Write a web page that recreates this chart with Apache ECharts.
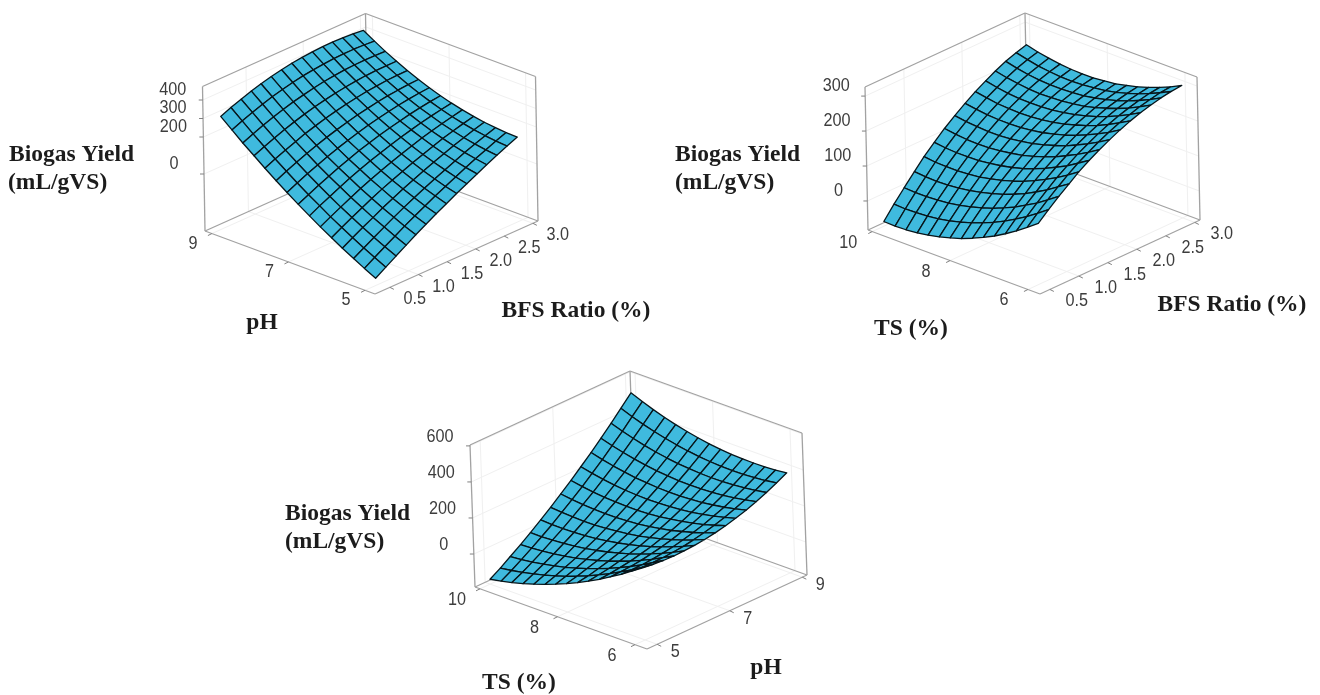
<!DOCTYPE html>
<html>
<head>
<meta charset="utf-8">
<style>html,body{margin:0;padding:0;background:#fff}#c{width:1320px;height:695px}</style>
<script src="https://cdn.jsdelivr.net/npm/echarts@6/dist/echarts.min.js"></script>
</head>
<body>
<div id="c"></div>
<script>
// Mesh coordinates along each factor
const phGrid = [5,5.29,5.57,5.86,6.14,6.43,6.71,7,7.29,7.57,7.86,8.14,8.43,8.71,9];
const bfsGrid = [0.5,0.68,0.86,1.04,1.21,1.39,1.57,1.75,1.93,2.11,2.29,2.46,2.64,2.82,3];
const tsGrid = [6,6.29,6.57,6.86,7.14,7.43,7.71,8,8.29,8.57,8.86,9.14,9.43,9.71,10];

const yieldPhBfs = [
[-222,-191,-159,-126,-91,-54,-16,24,66,108,153,199,246,295,346],
[-187,-157,-127,-94,-60,-25,13,51,92,134,178,223,270,319,369],
[-152,-124,-95,-64,-31,3,39,77,117,158,201,245,292,340,389],
[-118,-92,-64,-35,-3,30,65,101,140,180,222,266,312,359,408],
[-85,-61,-35,-7,23,55,89,124,161,200,242,284,329,376,424],
[-53,-31,-6,20,49,79,111,145,181,219,259,301,345,390,438],
[-22,-2,21,46,72,101,132,165,199,236,275,316,358,403,450],
[8,27,48,70,95,122,151,183,216,251,289,328,370,414,460],
[38,54,73,94,117,142,169,199,231,265,301,339,380,422,467],
[66,80,97,116,137,160,186,214,244,276,311,348,387,428,472],
[94,106,120,137,156,178,201,227,256,287,320,355,393,433,475],
[120,130,142,157,174,193,215,239,266,295,326,360,396,435,476],
[146,153,163,175,190,207,227,249,274,301,331,363,398,435,474],
[171,176,183,193,205,220,238,258,281,306,334,364,397,433,471],
[195,197,202,209,219,232,247,265,286,309,335,364,395,429,465]
];
// Panel 2: rows = BFS ratio, columns = TS
const yieldTsBfs = [
[120,97,75,55,37,21,7,-6,-16,-25,-32,-37,-40,-41,-40],
[146,123,102,83,66,50,37,25,15,7,1,-3,-5,-6,-4],
[170,148,127,109,92,78,65,54,45,38,32,29,27,27,29],
[192,171,151,133,117,103,91,81,73,66,61,58,57,58,61],
[213,192,173,156,141,127,116,106,98,92,88,86,86,87,91],
[232,212,193,177,162,149,138,129,122,117,113,112,112,114,118],
[249,229,212,196,181,169,159,150,144,139,136,135,136,139,144],
[264,245,228,213,199,188,178,170,164,160,157,157,159,162,167],
[278,259,243,228,215,204,195,187,182,178,177,177,179,183,188],
[290,272,256,241,229,219,210,203,198,195,194,195,197,202,208],
[300,282,267,253,241,231,223,217,212,210,209,210,213,218,225],
[308,291,276,263,252,242,234,229,225,223,222,224,228,233,240],
[315,298,284,271,260,251,244,238,235,234,234,236,240,246,254],
[320,304,290,277,267,258,251,247,244,242,243,246,250,257,265],
[323,307,294,282,272,264,257,253,250,250,251,254,259,265,274]
];
// Panel 3: rows = pH, columns = TS
const yieldTsPh = [
[217,176,137,100,65,33,3,-25,-51,-74,-95,-114,-130,-144,-156],
[210,171,135,101,70,41,13,-11,-34,-54,-72,-87,-101,-112,-121],
[205,170,136,105,77,50,27,5,-15,-32,-47,-59,-70,-78,-83],
[203,171,140,112,86,63,42,23,7,-8,-20,-29,-36,-41,-44],
[205,175,147,122,99,78,60,44,30,19,10,3,-1,-4,-3],
[209,181,156,134,113,95,80,67,56,47,41,37,36,36,40],
[215,191,168,148,131,115,102,92,84,78,74,73,75,78,84],
[225,203,183,166,150,138,127,119,114,111,110,112,116,122,131],
[238,218,200,185,173,163,155,149,146,146,148,152,158,167,179],
[253,235,221,208,198,190,185,182,181,183,187,194,203,215,229],
[271,256,243,233,225,220,217,216,218,223,229,239,250,264,281],
[292,279,269,261,255,252,252,253,258,264,273,285,299,315,334],
[316,305,297,291,288,287,289,293,299,308,319,333,350,368,390],
[343,334,328,324,323,324,328,334,343,354,368,384,402,423,447],
[372,365,361,360,361,364,370,378,389,402,418,436,457,480,506]
];

// Tick labels
const phTicks = [5,7,9];
const tsTicks = [6,8,10];
const bfsTicks = ['0.5','1.0','1.5','2.0','2.5','3.0'];
const yieldTicks1 = [0,200,300,400];
const yieldTicks2 = [0,100,200,300];
const yieldTicks3 = [0,200,400,600];
const phGridLines = [5,7,9];
const tsGridLines = [6,8,10];
const bfsGridLines = [1,2,3];

// View of each 3D box: front/left/right bottom corners and the vertical edge
const panels = [
 {u:phGrid,v:bfsGrid,z:yieldPhBfs,F:[375,294],L:[205,231],R:[538,221],Up:[-2.5,-144.5],
  uR:[4.74,9.18],vR:[0.24,3.09],zR:[-308,473],uT:phTicks,vT:bfsTicks,zT:yieldTicks1,uG:phGridLines,vG:bfsGridLines,
  shift:[-4,10.5],uO:[-19,10],vO:[25,12],zO:[-30,-10]},
 {u:tsGrid,v:bfsGrid,z:yieldTsBfs,F:[1040,294],L:[868,230],R:[1200,220],Up:[-3,-143],
  uR:[5.69,10.11],vR:[0.33,3.09],zR:[-83,326],uT:tsTicks,vT:bfsTicks,zT:yieldTicks2,uG:tsGridLines,vG:bfsGridLines,
  shift:[2,9.5],uO:[-24,11],vO:[27,12],zO:[-29,-10]},
 {u:tsGrid,v:phGrid,z:yieldTsPh,F:[647,649],L:[475,587],R:[807,575],Up:[-5,-142],
  uR:[5.69,10.13],vR:[4.72,9.13],zR:[-183,605],uT:tsTicks,vT:phTicks,zT:yieldTicks3,uG:tsGridLines,vG:phGridLines,
  shift:[0,0],uO:[-23,11],vO:[18,8],zO:[-30,-9]}
];

// Axis titles
const yieldTitle = 'Biogas Yield';
const yieldUnit = '(mL/gVS)';
const titleFont = 'bold 23.5px "Liberation Serif"';
const axisTitles = [
 [9,155,yieldTitle,'left'],[8,183,yieldUnit,'left'],[262,323,'pH','center'],[576,311,'BFS Ratio (%)','center'],
 [675,155,yieldTitle,'left'],[675,183,yieldUnit,'left'],[911,329,'TS (%)','center'],[1232,305,'BFS Ratio (%)','center'],
 [285,514,yieldTitle,'left'],[285,542,yieldUnit,'left'],[519,683,'TS (%)','center'],[766,668,'pH','center']
];

function project(p,u,v,z,shift){
  const a=(u-p.uR[0])/(p.uR[1]-p.uR[0]),b=(v-p.vR[0])/(p.vR[1]-p.vR[0]),c=(z-p.zR[0])/(p.zR[1]-p.zR[0]);
  const s=shift?p.shift:[0,0];
  return [p.F[0]+a*(p.L[0]-p.F[0])+b*(p.R[0]-p.F[0])+c*p.Up[0]+s[0],
          p.F[1]+a*(p.L[1]-p.F[1])+b*(p.R[1]-p.F[1])+c*p.Up[1]+s[1]];
}

const lineStyles = {
  box:{stroke:'#a2a2a2',lineWidth:1.3},
  grid:{stroke:'#f0f0f0',lineWidth:1},
  tick:{stroke:'#808080',lineWidth:1}
};

function frameSeries(p){
  const [u0,u1]=p.uR,[v0,v1]=p.vR,[z0,z1]=p.zR;
  const segs=[];
  const add=(k,a,b,c,d,e,f)=>segs.push({k,row:[a,b,c,d,e,f]});
  p.uG.forEach(u=>{add('grid',u,v0,z0,u,v1,z0);add('grid',u,v1,z0,u,v1,z1);});
  p.vG.forEach(v=>{add('grid',u0,v,z0,u1,v,z0);add('grid',u1,v,z0,u1,v,z1);});
  p.zT.forEach(z=>{add('grid',u1,v0,z,u1,v1,z);add('grid',u0,v1,z,u1,v1,z);});
  // box edges
  add('box',u0,v0,z0,u1,v0,z0);add('box',u0,v0,z0,u0,v1,z0);
  add('box',u1,v0,z0,u1,v1,z0);add('box',u0,v1,z0,u1,v1,z0);
  add('box',u1,v0,z0,u1,v0,z1);add('box',u0,v1,z0,u0,v1,z1);add('box',u1,v1,z0,u1,v1,z1);
  add('box',u1,v0,z1,u1,v1,z1);add('box',u0,v1,z1,u1,v1,z1);
  return {
    type:'custom',coordinateSystem:'cartesian2d',silent:true,animation:false,z:1,
    data:segs.map(s=>s.row),
    renderItem(params,api){
      const s=segs[params.dataIndex];
      const a=api.coord(project(p,api.value(0),api.value(1),api.value(2)));
      const b=api.coord(project(p,api.value(3),api.value(4),api.value(5)));
      return {type:'line',shape:{x1:a[0],y1:a[1],x2:b[0],y2:b[1]},style:Object.assign({fill:null},lineStyles[s.k])};
    }
  };
}

function tickSeries(p){
  const [u0,u1]=p.uR,[v0,v1]=p.vR,[z0]=p.zR;
  const items=[];
  p.uT.forEach(t=>items.push({t:String(t),row:[+t,v0,z0],o:p.uO,d:[-4,2]}));
  p.vT.forEach(t=>items.push({t:String(t),row:[u0,+t,z0],o:p.vO,d:[4,2]}));
  p.zT.forEach(t=>items.push({t:String(t),row:[u1,v0,+t],o:p.zO,d:[-4,0]}));
  return {
    type:'custom',coordinateSystem:'cartesian2d',silent:true,animation:false,z:3,
    data:items.map(i=>i.row),
    renderItem(params,api){
      const it=items[params.dataIndex];
      const c=api.coord(project(p,api.value(0),api.value(1),api.value(2)));
      return {type:'group',children:[
        {type:'line',shape:{x1:c[0],y1:c[1],x2:c[0]+it.d[0],y2:c[1]+it.d[1]},style:Object.assign({fill:null},lineStyles.tick)},
        {type:'text',x:c[0]+it.o[0],y:c[1]+it.o[1],scaleX:0.9,style:{text:it.t,fill:'#3d3d3d',font:'18px "Liberation Sans"',align:'center',verticalAlign:'middle',textAlign:'center',textVerticalAlign:'middle'}}
      ]};
    }
  };
}

function surfaceSeries(p){
  const quads=[];
  // far cells first, so nearer cells paint over them
  for(let j=p.v.length-2;j>=0;j--){
    for(let i=p.u.length-2;i>=0;i--){
      quads.push([p.u[i],p.v[j],p.u[i+1],p.v[j+1],p.z[j][i],p.z[j][i+1],p.z[j+1][i+1],p.z[j+1][i]]);
    }
  }
  return {
    type:'custom',coordinateSystem:'cartesian2d',silent:true,animation:false,z:2,
    data:quads,
    renderItem(params,api){
      const u0=api.value(0),v0=api.value(1),u1=api.value(2),v1=api.value(3);
      const pts=[[u0,v0,api.value(4)],[u1,v0,api.value(5)],[u1,v1,api.value(6)],[u0,v1,api.value(7)]]
        .map(q=>api.coord(project(p,q[0],q[1],q[2],true)));
      return {type:'polygon',shape:{points:pts},style:{fill:'#3fbade',stroke:'#07151a',lineWidth:1.3,lineJoin:'round'}};
    }
  };
}

const chart = echarts.init(document.getElementById('c'),null,{renderer:'canvas'});
chart.setOption({
  animation:false,
  backgroundColor:'#ffffff',
  grid:{left:0,right:0,top:0,bottom:0},
  xAxis:{type:'value',min:0,max:1320,show:false},
  yAxis:{type:'value',min:0,max:695,inverse:true,show:false},
  series:panels.flatMap(p=>[frameSeries(p),surfaceSeries(p),tickSeries(p)]),
  graphic:axisTitles.map(t=>({type:'text',x:t[0],y:t[1],silent:true,z:10,
    style:{text:t[2],fill:'#1c1c1c',font:titleFont,align:t[3],verticalAlign:'middle',textAlign:t[3],textVerticalAlign:'middle'}}))
});
</script>
</body>
</html>
